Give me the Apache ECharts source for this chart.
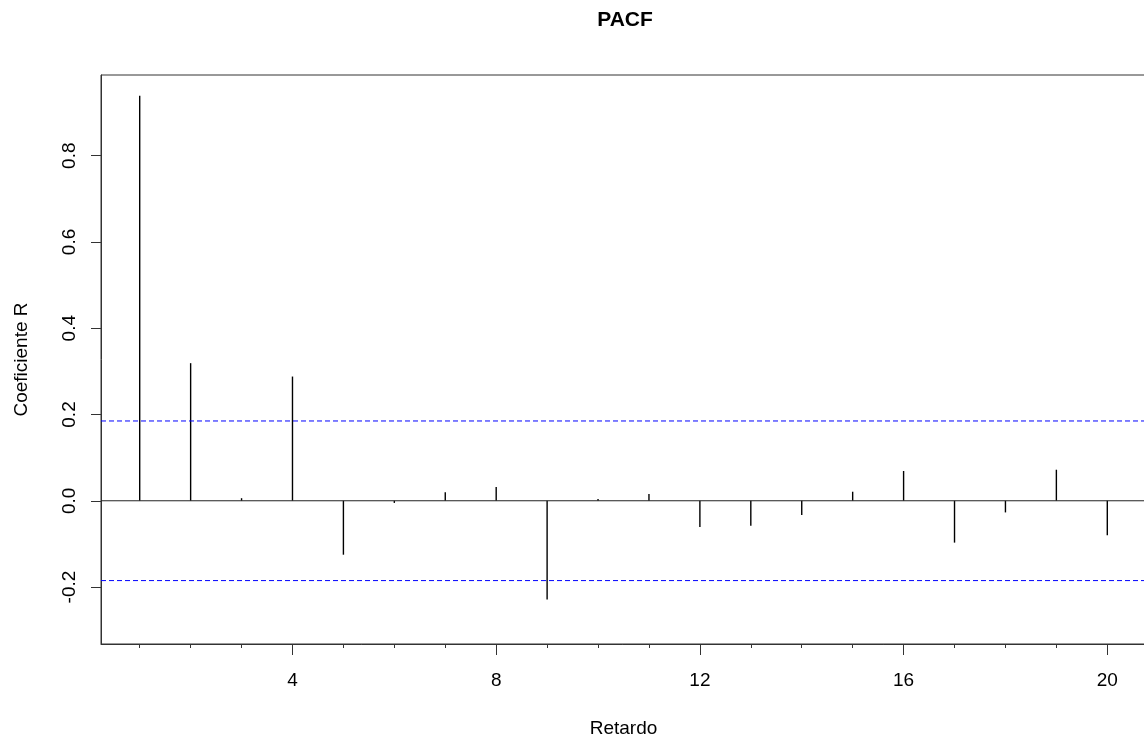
<!DOCTYPE html>
<html>
<head>
<meta charset="utf-8">
<title>PACF</title>
<script src="https://cdn.jsdelivr.net/npm/echarts@6/dist/echarts.min.js"></script>
<style>
    html, body { margin: 0; padding: 0; background: #fff; overflow: hidden; }
    #chartDiv { width: 1144px; height: 738px; }
</style>
</head>
<body>
<div id="chartDiv"></div>
<script>
// datos
var lags = [1, 2, 3, 4, 5, 6, 7, 8, 9, 10, 11, 12, 13, 14, 15, 16, 17, 18, 19, 20];
var pacfValues = [0.939, 0.319, 0.006, 0.288, -0.125, -0.005, 0.020, 0.032, -0.229, 0.004,
    0.016, -0.061, -0.058, -0.033, 0.021, 0.069, -0.097, -0.027, 0.072, -0.080];
var xTickLabels = [4, 8, 12, 16, 20];
var yTickLabels = [-0.2, 0.0, 0.2, 0.4, 0.6, 0.8];
var confLimit = 0.185;

var myChart = null;

var axisColor = '#333';
var fontName = 'Liberation Sans, Arial, sans-serif';
var xMin = 0.24, xMax = 20.76;

var pacfData = [];
for (var i = 0; i < lags.length; i++) {
    pacfData.push([lags[i], pacfValues[i]]);
}

// linea horizontal de un extremo al otro del eje x
function hLine(name, y, color, type) {
    return {
        name: name,
        type: 'line',
        xAxisIndex: 0,
        symbol: 'none',
        silent: true,
        z: 3,
        lineStyle: { color: color, type: type, width: 1 },
        data: [[xMin, y], [xMax, y]]
    };
}

var option = {
    animation: false,
    backgroundColor: '#fff',
    title: {
        text: 'PACF',
        left: 620,
        top: 5,
        textAlign: 'center',
        textStyle: {
            fontFamily: fontName,
            fontSize: 21,
            fontWeight: 'bold',
            color: '#000'
        }
    },
    grid: {
        left: 101,
        right: -2,
        top: 75,
        bottom: 94,
        outerBoundsMode: 'none',
        show: true,
        borderColor: axisColor,
        borderWidth: 1,
        backgroundColor: 'transparent'
    },
    xAxis: [
        {
            type: 'value',
            min: xMin,
            max: xMax,
            position: 'bottom',
            name: 'Retardo',
            nameLocation: 'middle',
            nameGap: 75,
            nameTextStyle: { fontFamily: fontName, fontSize: 19, color: '#000' },
            splitLine: { show: false },
            axisLine: { show: true, onZero: false, lineStyle: { color: axisColor } },
            axisTick: {
                show: true,
                length: 11,
                customValues: xTickLabels,
                lineStyle: { color: axisColor }
            },
            axisLabel: {
                customValues: xTickLabels,
                margin: 27,
                fontFamily: fontName,
                fontSize: 19,
                color: '#000'
            }
        },
        {
            // marcas menores en cada retardo
            type: 'value',
            min: xMin,
            max: xMax,
            position: 'bottom',
            splitLine: { show: false },
            axisLine: { show: false, onZero: false },
            axisTick: {
                show: true,
                length: 4,
                customValues: lags,
                lineStyle: { color: axisColor }
            },
            axisLabel: { show: false }
        }
    ],
    yAxis: {
        type: 'value',
        min: -0.332,
        max: 0.987,
        name: 'Coeficiente R',
        nameLocation: 'middle',
        nameGap: 70,
        nameTextStyle: { fontFamily: fontName, fontSize: 19, color: '#000' },
        splitLine: { show: false },
        axisLine: { show: true, onZero: false, lineStyle: { color: axisColor } },
        axisTick: {
            show: true,
            length: 10,
            customValues: yTickLabels,
            lineStyle: { color: axisColor }
        },
        axisLabel: {
            customValues: yTickLabels,
            rotate: 90,
            margin: 22,
            fontFamily: fontName,
            fontSize: 19,
            color: '#000',
            formatter: function (v) { return v.toFixed(1); }
        }
    },
    series: [
        {
            name: 'PACF',
            type: 'bar',
            xAxisIndex: 0,
            barWidth: 1.4,
            itemStyle: { color: '#000' },
            data: pacfData
        },
        hLine('cero', 0, '#222', 'solid'),
        hLine('limite superior', confLimit, '#0000ff', [5, 3]),
        hLine('limite inferior', -confLimit, '#0000ff', [5, 3])
    ]
};

myChart = echarts.init(document.getElementById('chartDiv'));
myChart.setOption(option);
</script>
</body>
</html>
